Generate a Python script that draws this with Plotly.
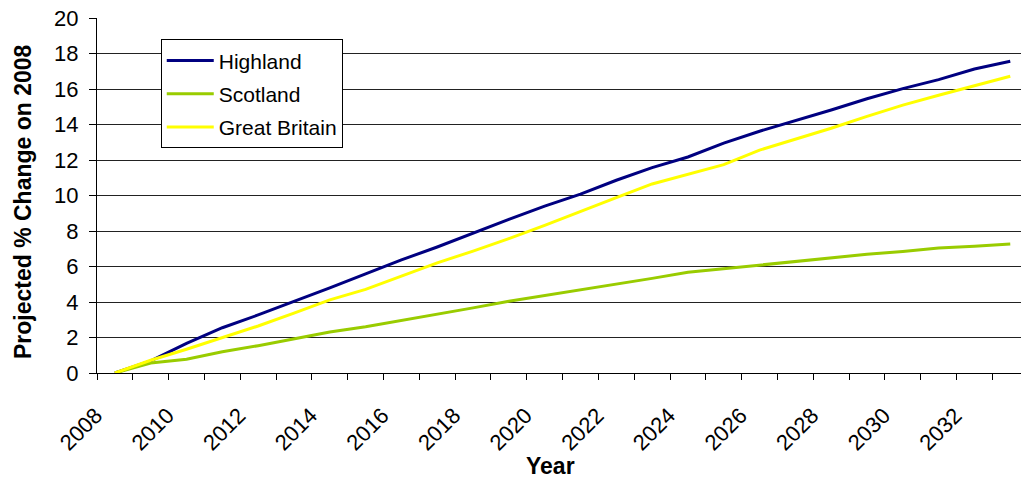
import plotly.graph_objects as go

# Projected population change relative to 2008 (%)
years = list(range(2008, 2034))
highland = [0, 0.68, 1.67, 2.55, 3.27, 4.02, 4.80, 5.58, 6.37, 7.10, 7.90, 8.66, 9.40,
            10.08, 10.86, 11.57, 12.17, 12.95, 13.62, 14.20, 14.82, 15.45, 16.02,
            16.53, 17.13, 17.56]
scotland = [0, 0.56, 0.77, 1.20, 1.54, 1.91, 2.31, 2.61, 2.95, 3.29, 3.67, 4.04, 4.36,
            4.65, 5.00, 5.33, 5.67, 5.88, 6.08, 6.27, 6.49, 6.69, 6.85, 7.04, 7.14, 7.27]
great_britain = [0, 0.72, 1.34, 2.00, 2.65, 3.37, 4.12, 4.71, 5.46, 6.20, 6.87, 7.57,
                 8.32, 9.08, 9.88, 10.65, 11.20, 11.74, 12.56, 13.17, 13.79, 14.46,
                 15.09, 15.65, 16.19, 16.72]
tick_years = list(range(2008, 2033, 2))
y_ticks = list(range(0, 21, 2))

series = [
    ("Highland", highland, "#000080"),
    ("Scotland", scotland, "#99CC00"),
    ("Great Britain", great_britain, "#FFFF00"),
]

FONT = "Liberation Sans, Arial, sans-serif"

fig = go.Figure()
for name, vals, color in series:
    fig.add_trace(go.Scatter(
        x=years, y=vals, name=name, legendgroup=name, mode="lines",
        line=dict(color=color, width=3),
    ))

fig.update_layout(
    width=1021, height=478,
    margin=dict(l=97, r=0, t=18, b=105),
    paper_bgcolor="white", plot_bgcolor="white",
    font=dict(family=FONT, size=22, color="black"),
    showlegend=True,
    legend=dict(
        x=0.069, y=0.940, xanchor="left", yanchor="top",
        bgcolor="white", bordercolor="black", borderwidth=1,
        font=dict(size=21), tracegroupgap=3, itemwidth=47,
    ),
    annotations=[
        dict(text="<b>Projected % Change on 2008</b>", textangle=-90,
             xref="paper", yref="paper", x=-0.0806, y=0.483,
             xanchor="center", yanchor="middle", showarrow=False,
             font=dict(size=23)),
        dict(text="<b>Year</b>",
             xref="paper", yref="paper", x=0.491, y=-0.262,
             xanchor="center", yanchor="middle", showarrow=False,
             font=dict(size=23)),
    ],
)

fig.update_xaxes(
    range=[2007.5, 2033.3],
    tickvals=tick_years, ticktext=[str(y) for y in tick_years],
    tickangle=-45, ticks="", showgrid=False,
    ticklabelshift=-19, ticklabelstandoff=20,
    tickfont=dict(size=22),
    showline=True, linecolor="black", linewidth=1,
    minor=dict(tick0=2007.5, dtick=1, ticks="outside", ticklen=6,
               tickcolor="black", showgrid=False),
    zeroline=False,
)
fig.update_yaxes(
    range=[0, 20], tickvals=y_ticks,
    ticks="outside", ticklen=7, tickcolor="black",
    ticklabelstandoff=6, tickfont=dict(size=22),
    showgrid=True, gridcolor="#222222", gridwidth=1,
    showline=True, linecolor="black", linewidth=1,
    zeroline=False,
)

fig.write_html("out.html")
